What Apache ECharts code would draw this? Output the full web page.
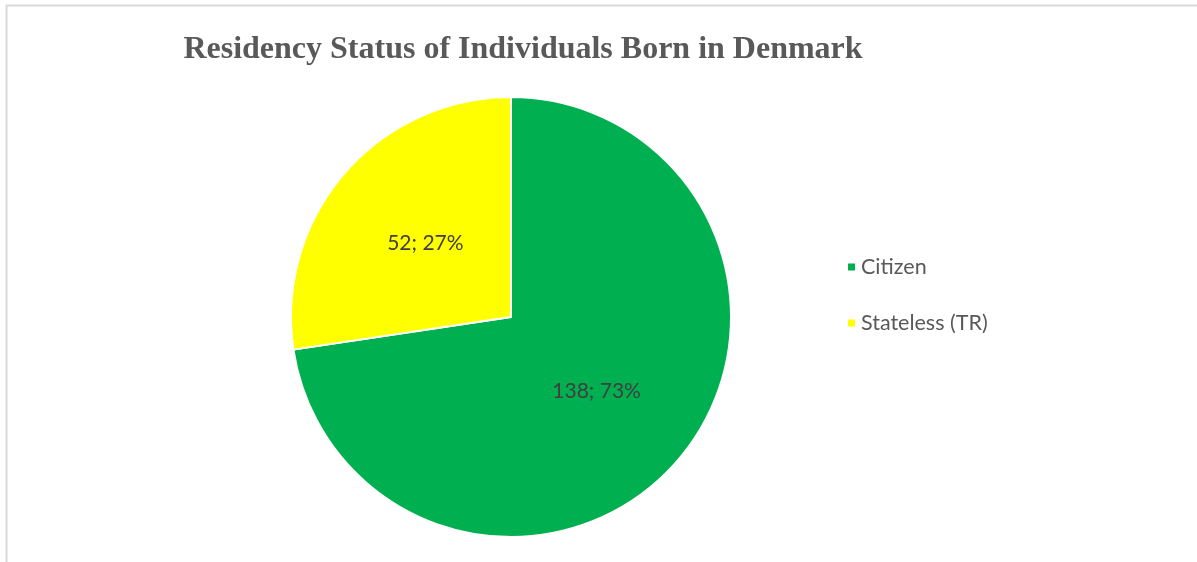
<!DOCTYPE html>
<html>
<head>
<meta charset="utf-8">
<script src="https://cdn.jsdelivr.net/npm/echarts@6/dist/echarts.min.js"></script>
<style>html,body{margin:0;padding:0;background:#fff}#c{width:1197px;height:562px}</style>
</head>
<body>
<div id="c"></div>
<script>
const titleText = 'Residency Status of Individuals Born in Denmark';
const categories = ['Citizen', 'Stateless (TR)'];
const values = [138, 52];
const colors = ['#00B050', '#FFFF00'];

const chart = echarts.init(document.getElementById('c'), null, {renderer: 'canvas'});
chart.setOption({
  animation: false,
  backgroundColor: '#ffffff',
  graphic: [{
    type: 'rect', silent: true, z: -1,
    shape: {x: 6.5, y: 5.5, width: 1300, height: 700},
    style: {fill: 'none', stroke: '#d9d9d9', lineWidth: 2}
  }],
  title: {
    text: titleText,
    left: 518, top: 29, textAlign: 'center',
    textStyle: {fontFamily: 'Liberation Serif', fontWeight: 'bold', fontSize: 32, color: '#595959'}
  },
  legend: {
    orient: 'vertical',
    left: 841, top: 251,
    itemWidth: 9, itemHeight: 9, itemGap: 34,
    icon: 'rect',
    textStyle: {fontFamily: 'Lato', fontSize: 21.5, lineHeight: 22, color: '#595959'},
    data: categories
  },
  series: [{
    type: 'pie',
    center: [511, 317],
    radius: 220,
    startAngle: 90,
    clockwise: true,
    color: colors,
    itemStyle: {borderColor: '#ffffff', borderWidth: 2},
    label: {
      position: 'inside',
      formatter: p => p.value + '; ' + Math.round(p.percent) + '%',
      fontFamily: 'Lato', fontSize: 21, color: '#404040'
    },
    labelLine: {show: false},
    emphasis: {disabled: true},
    data: categories.map((n, i) => ({name: n, value: values[i]}))
  }]
});
</script>
</body>
</html>
